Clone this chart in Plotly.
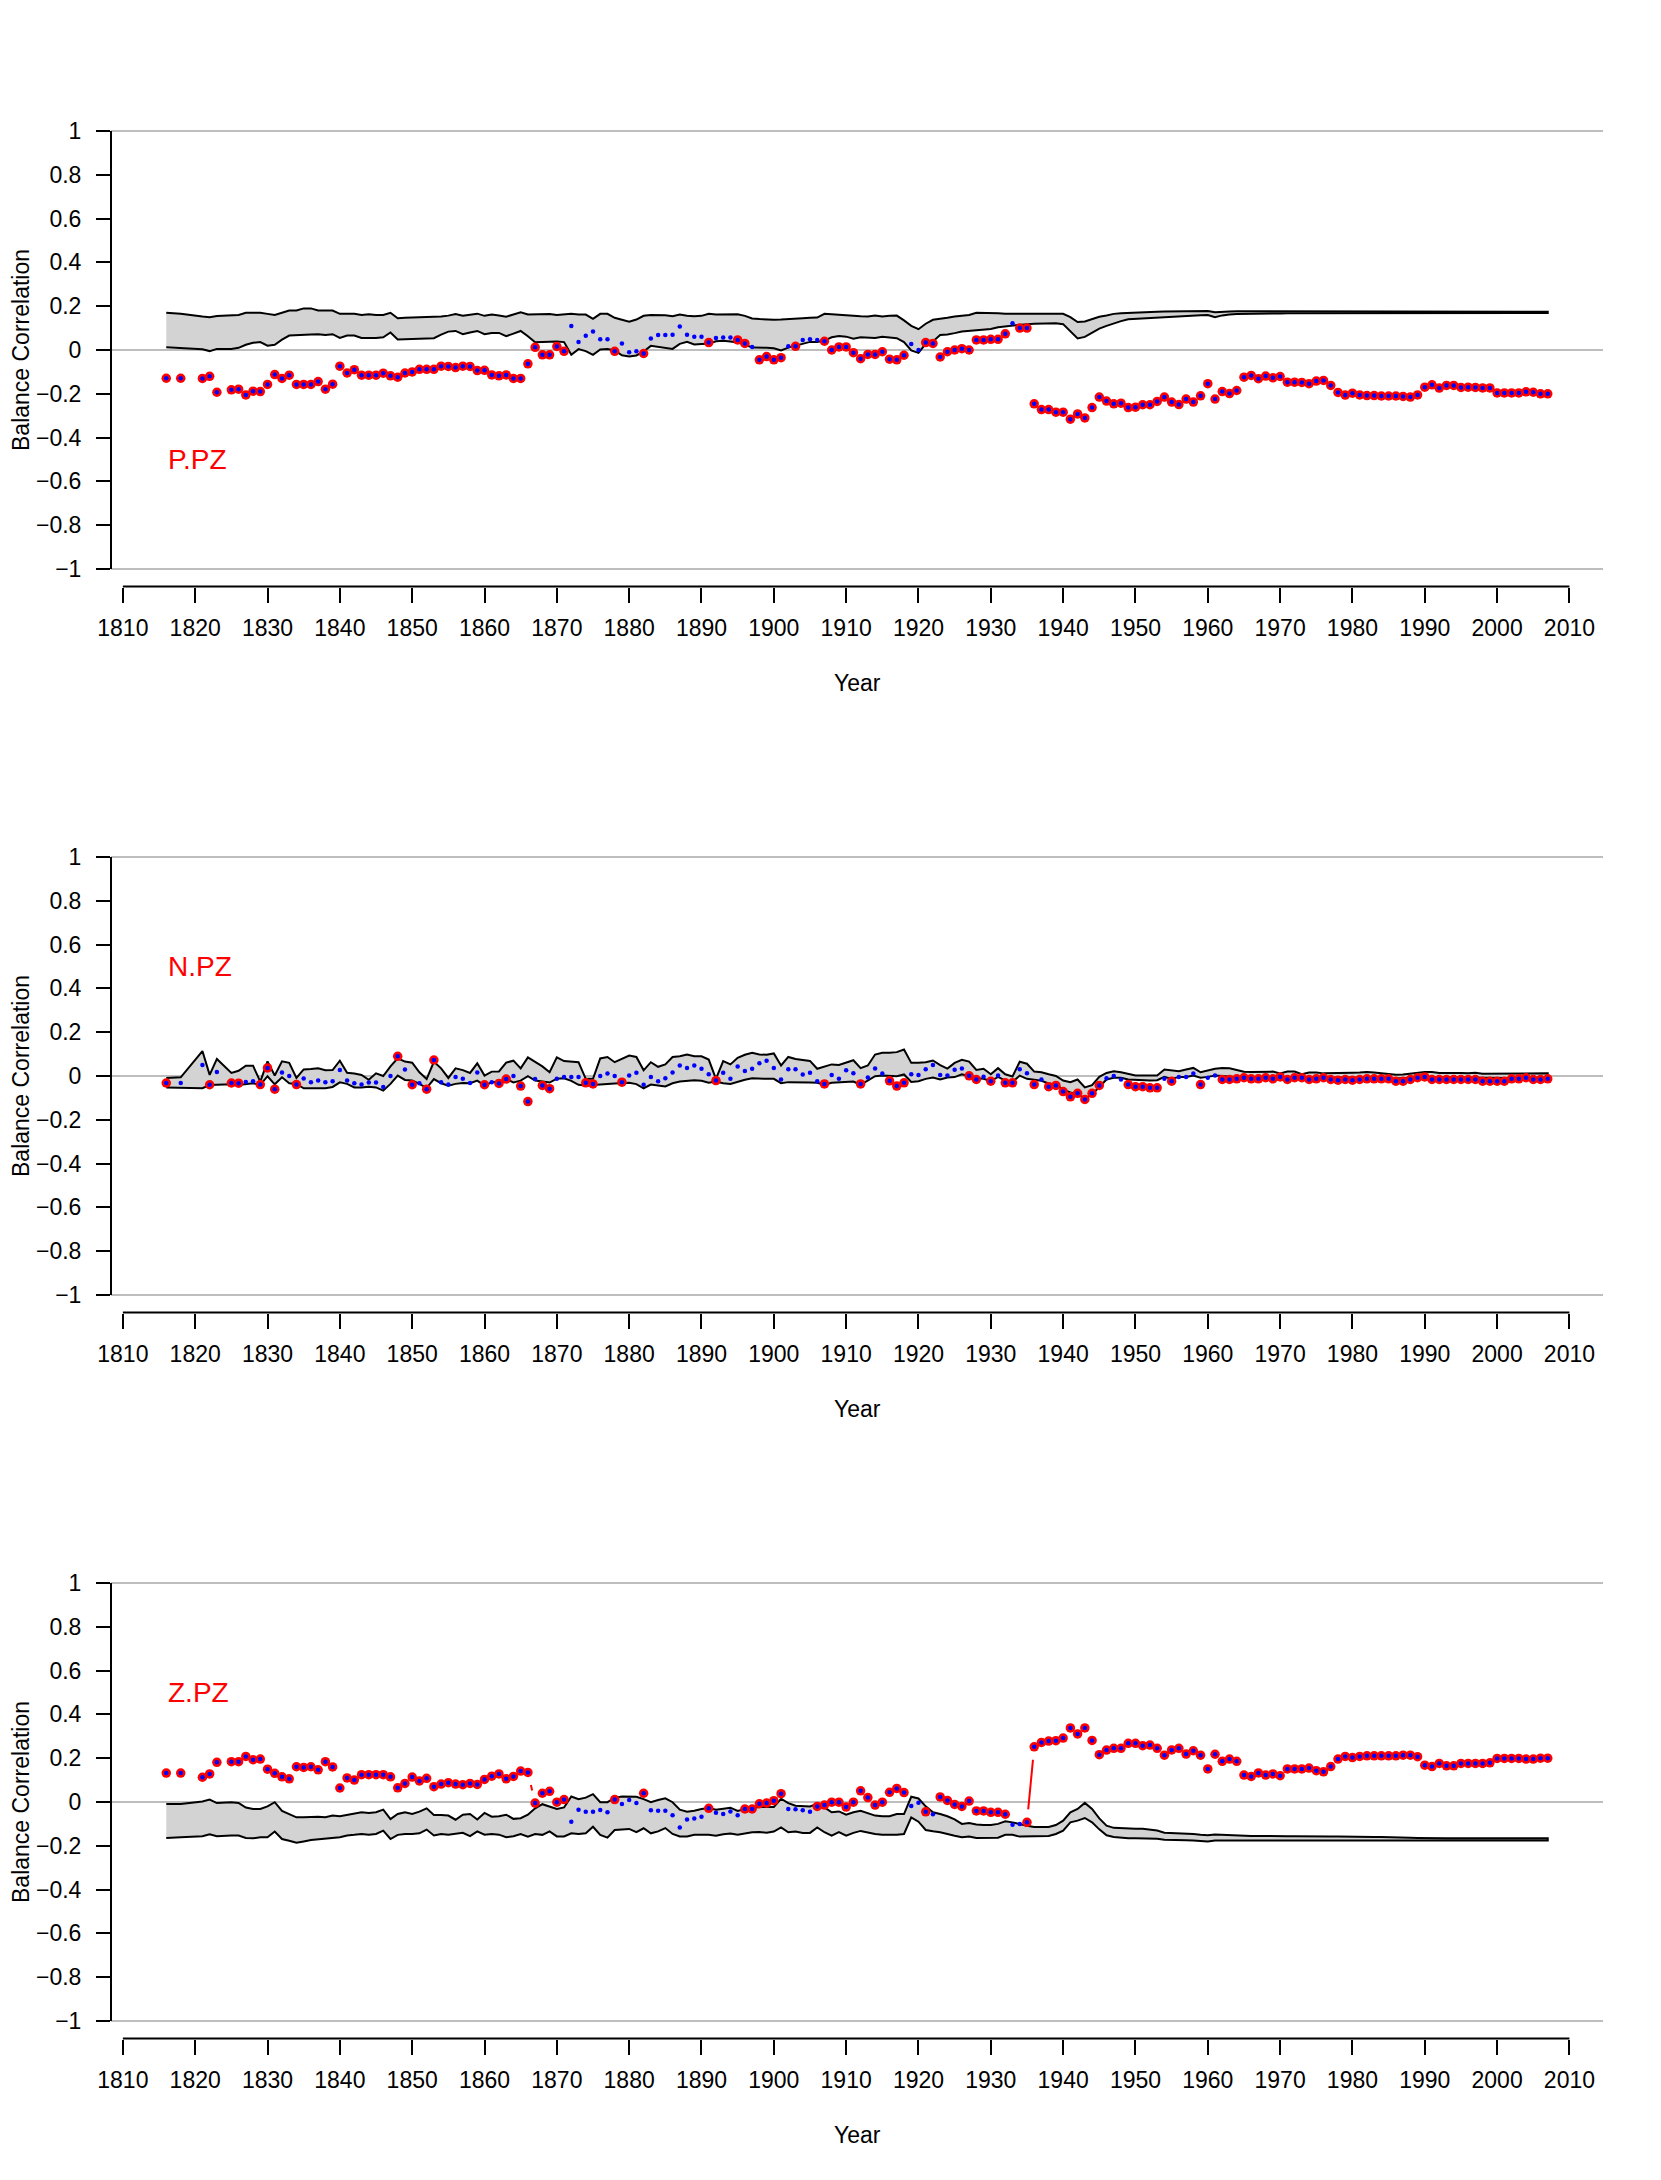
import plotly.graph_objects as go

# ===== DATA =====
years = [1816, 1818, 1821, 1822, 1823] + list(range(1825, 2008))

# P.PZ panel
p_upper = [
    0.17, 0.165, 0.153, 0.15, 0.155,
    0.16, 0.16, 0.17, 0.17, 0.17,
    0.165, 0.16, 0.17, 0.18, 0.18, 0.19, 0.19, 0.18, 0.18, 0.18,
    0.165, 0.165, 0.165, 0.16, 0.163, 0.16, 0.16, 0.17, 0.145, 0.147,
    0.148, 0.148, 0.15, 0.15, 0.153, 0.157, 0.164, 0.157, 0.162, 0.166,
    0.156, 0.162, 0.158, 0.152, 0.162, 0.172, 0.162, 0.163, 0.166, 0.164,
    0.16, 0.162, 0.165, 0.162, 0.162, 0.142, 0.165, 0.165, 0.147, 0.138,
    0.129, 0.139, 0.156, 0.16, 0.16, 0.159, 0.154, 0.162, 0.156, 0.154,
    0.156, 0.165, 0.162, 0.163, 0.163, 0.163, 0.156, 0.144, 0.141, 0.139,
    0.138, 0.139, 0.142, 0.144, 0.145, 0.147, 0.148, 0.165, 0.162, 0.162,
    0.159, 0.156, 0.154, 0.153, 0.157, 0.153, 0.156, 0.157, 0.135, 0.11,
    0.095, 0.12, 0.138, 0.141, 0.147, 0.153, 0.156, 0.16, 0.17, 0.17,
    0.168, 0.168, 0.166, 0.166, 0.165, 0.164, 0.165, 0.165, 0.165, 0.165,
    0.165, 0.15, 0.128, 0.13, 0.142, 0.152, 0.158, 0.165, 0.168, 0.17,
    0.172, 0.173, 0.174, 0.175, 0.176, 0.176, 0.177, 0.177, 0.176, 0.177,
    0.178, 0.172, 0.175, 0.176, 0.177, 0.177, 0.178, 0.177, 0.177, 0.178,
    0.177, 0.178, 0.178, 0.177, 0.177, 0.178, 0.178, 0.177, 0.177, 0.178,
    0.178, 0.177, 0.177, 0.177, 0.178, 0.178, 0.177, 0.177, 0.177, 0.178,
    0.178, 0.178, 0.177, 0.177, 0.177, 0.177, 0.176, 0.176, 0.177, 0.177,
    0.176, 0.176, 0.176, 0.176, 0.176, 0.175, 0.175, 0.175,
]
p_lower = [
    0.013, 0.01, 0.003, -0.005, 0.005,
    0.005, 0.01, 0.024, 0.033, 0.036,
    0.02, 0.024, 0.047, 0.066, 0.07, 0.07, 0.071, 0.072, 0.068, 0.072,
    0.055, 0.066, 0.066, 0.055, 0.055, 0.055, 0.058, 0.08, 0.048, 0.048,
    0.05, 0.052, 0.053, 0.054, 0.07, 0.084, 0.087, 0.072, 0.08, 0.087,
    0.072, 0.078, 0.078, 0.063, 0.075, 0.087, 0.063, 0.035, 0.036, 0.037,
    0.039, 0.036, -0.022, 0.004, -0.005, -0.022, 0.002, 0.005, -0.002, -0.024,
    -0.03, -0.025, -0.007, 0.019, 0.014, 0.01, 0.005, 0.028, 0.037, 0.025,
    0.027, 0.028, 0.04, 0.042, 0.039, 0.034, 0.025, 0.011, 0.01, 0.01,
    0.008, -0.002, 0.011, 0.019, 0.028, 0.037, 0.037, 0.043, 0.058, 0.064,
    0.061, 0.051, 0.058, 0.058, 0.055, 0.06, 0.058, 0.054, 0.036, -0.002,
    -0.013, 0.028, 0.039, 0.069, 0.071, 0.077, 0.084, 0.089, 0.093, 0.093,
    0.096, 0.104, 0.109, 0.112, 0.115, 0.118, 0.12, 0.121, 0.122, 0.122,
    0.118, 0.085, 0.053, 0.06, 0.078, 0.098, 0.11, 0.122, 0.132, 0.14,
    0.143, 0.145, 0.147, 0.148, 0.15, 0.152, 0.154, 0.156, 0.157, 0.159,
    0.16, 0.15, 0.158, 0.162, 0.164, 0.165, 0.166, 0.166, 0.167, 0.167,
    0.167, 0.168, 0.168, 0.168, 0.168, 0.169, 0.169, 0.169, 0.169, 0.17,
    0.17, 0.17, 0.17, 0.17, 0.171, 0.171, 0.171, 0.17, 0.17, 0.171,
    0.171, 0.171, 0.171, 0.171, 0.171, 0.171, 0.17, 0.17, 0.17, 0.17,
    0.17, 0.17, 0.17, 0.17, 0.17, 0.17, 0.169, 0.169,
]
p_value = [
    -0.129, -0.129, -0.13, -0.12, -0.193,
    -0.182, -0.179, -0.205, -0.188, -0.19,
    -0.157, -0.112, -0.13, -0.115, -0.157, -0.157, -0.157, -0.144, -0.179, -0.156,
    -0.074, -0.105, -0.09, -0.115, -0.115, -0.115, -0.106, -0.118, -0.124, -0.105,
    -0.1, -0.088, -0.088, -0.088, -0.074, -0.075, -0.08, -0.074, -0.075, -0.094,
    -0.093, -0.114, -0.118, -0.114, -0.13, -0.13, -0.063, 0.012, -0.022, -0.022,
    0.016, -0.006, 0.11, 0.036, 0.065, 0.084, 0.049, 0.049, -0.006, 0.03,
    -0.01, -0.006, -0.016, 0.052, 0.068, 0.068, 0.07, 0.107, 0.07, 0.061,
    0.061, 0.034, 0.055, 0.057, 0.057, 0.046, 0.03, 0.014, -0.045, -0.03,
    -0.045, -0.035, 0.017, 0.017, 0.046, 0.049, 0.046, 0.04, 0.0, 0.014,
    0.014, -0.012, -0.04, -0.02, -0.02, -0.008, -0.042, -0.045, -0.024, 0.027,
    0.0, 0.034, 0.03, -0.032, -0.008, 0.0, 0.006, 0.0, 0.046, 0.046,
    0.049, 0.049, 0.074, 0.122, 0.1, 0.1, -0.246, -0.272, -0.272, -0.284,
    -0.284, -0.316, -0.292, -0.31, -0.263, -0.215, -0.233, -0.246, -0.243, -0.263,
    -0.261, -0.25, -0.25, -0.235, -0.215, -0.238, -0.249, -0.224, -0.238, -0.209,
    -0.154, -0.224, -0.19, -0.199, -0.185, -0.124, -0.116, -0.131, -0.119, -0.127,
    -0.121, -0.147, -0.147, -0.148, -0.154, -0.142, -0.139, -0.162, -0.194, -0.206,
    -0.197, -0.205, -0.208, -0.208, -0.21, -0.21, -0.21, -0.212, -0.215, -0.205,
    -0.17, -0.159, -0.174, -0.162, -0.162, -0.171, -0.17, -0.171, -0.173, -0.173,
    -0.196, -0.196, -0.196, -0.196, -0.191, -0.193, -0.2, -0.2,
]
p_plain_years = [1872, 1873, 1874, 1875, 1876, 1877, 1879, 1880, 1881,
                 1883, 1884, 1885, 1886, 1887, 1888, 1889, 1890,
                 1892, 1893, 1894, 1897, 1902, 1904, 1905, 1906,
                 1919, 1920, 1933]

# N.PZ panel
n_upper = [
    -0.009, -0.006, 0.114, 0.005, 0.078,
    0.014, 0.024, 0.047, 0.047, -0.026,
    0.067, 0.002, 0.067, 0.06, -0.009, 0.03, 0.032, 0.035, 0.026, 0.027,
    0.07, 0.015, 0.011, 0.005, -0.017, 0.012, 0.0, 0.044, 0.081, 0.066,
    0.061, 0.017, -0.014, 0.065, 0.035, -0.009, 0.035, 0.027, 0.014, 0.058,
    0.002, 0.02, 0.021, 0.061, 0.07, 0.035, 0.085, 0.064, 0.044, 0.017,
    0.085, 0.068, 0.065, 0.063, -0.013, -0.013, 0.08, 0.087, 0.063, 0.078,
    0.093, 0.087, 0.026, 0.063, 0.042, 0.053, 0.087, 0.09, 0.098, 0.09,
    0.09, 0.075, -0.013, 0.068, 0.053, 0.083, 0.097, 0.106, 0.098, 0.097,
    0.103, 0.048, 0.087, 0.078, 0.072, 0.069, 0.033, 0.042, 0.053, 0.05,
    0.06, 0.072, 0.036, 0.048, 0.098, 0.106, 0.106, 0.109, 0.121, 0.06,
    0.06, 0.063, 0.071, 0.05, 0.034, 0.06, 0.074, 0.066, 0.028, 0.033,
    0.008, 0.036, 0.008, -0.002, 0.065, 0.056, 0.02, 0.017, 0.008, 0.0,
    -0.021, -0.028, -0.016, -0.052, -0.042, -0.004, 0.014, 0.022, 0.017, 0.011,
    0.002, 0.002, 0.003, 0.002, 0.03, 0.026, 0.022, 0.03, 0.037, 0.017,
    0.026, 0.033, 0.037, 0.035, 0.027, 0.019, 0.018, 0.018, 0.019, 0.02,
    0.012, 0.02, 0.02, 0.008, 0.016, 0.016, 0.012, 0.012, 0.013, 0.014,
    0.015, 0.016, 0.018, 0.016, 0.013, 0.01, 0.006, 0.007, 0.01, 0.016,
    0.018, 0.018, 0.014, 0.014, 0.015, 0.014, 0.012, 0.015, 0.01, 0.01,
    0.01, 0.011, 0.012, 0.012, 0.012, 0.012, 0.013, 0.012,
]
n_lower = [
    -0.053, -0.053, -0.056, -0.041, -0.041,
    -0.038, -0.041, -0.036, -0.033, -0.041,
    -0.001, -0.038, -0.006, -0.033, -0.036, -0.056, -0.059, -0.056, -0.056, -0.05,
    -0.029, -0.036, -0.052, -0.053, -0.049, -0.052, -0.067, -0.036, 0.002, -0.018,
    -0.021, -0.036, -0.055, -0.014, -0.033, -0.044, -0.036, -0.032, -0.033, -0.021,
    -0.044, -0.029, -0.026, -0.014, -0.029, -0.021, -0.001, -0.021, -0.026, -0.03,
    -0.012, -0.01, -0.022, -0.04, -0.043, -0.039, -0.039, -0.036, -0.034, -0.031,
    -0.031, -0.037, -0.056, -0.039, -0.043, -0.048, -0.033, -0.025, -0.022, -0.019,
    -0.022, -0.031, -0.025, -0.033, -0.036, -0.025, -0.017, -0.01, -0.013, -0.013,
    -0.013, -0.033, -0.028, -0.028, -0.03, -0.03, -0.031, -0.04, -0.031, -0.028,
    -0.028, -0.025, -0.04, -0.019, -0.001, 0.002, 0.002, -0.001, 0.007, -0.027,
    -0.024, -0.013, -0.007, -0.016, -0.007, -0.005, 0.008, 0.0, -0.01, -0.013,
    -0.024, -0.004, -0.021, -0.027, 0.002, -0.013, -0.016, -0.022, -0.034, -0.039,
    -0.062, -0.075, -0.083, -0.104, -0.084, -0.051, -0.016, -0.008, -0.008, -0.016,
    -0.019, -0.019, -0.02, -0.019, -0.004, -0.013, -0.004, -0.004, 0.002, -0.008,
    -0.004, 0.002, -0.001, -0.002, -0.004, -0.005, -0.005, -0.004, -0.005, -0.004,
    -0.006, -0.004, -0.005, -0.008, -0.006, -0.005, -0.006, -0.007, -0.008, -0.008,
    -0.007, -0.006, -0.005, -0.006, -0.008, -0.01, -0.011, -0.01, -0.008, -0.004,
    -0.003, -0.004, -0.006, -0.006, -0.006, -0.007, -0.008, -0.007, -0.009, -0.01,
    -0.01, -0.009, -0.009, -0.008, -0.008, -0.008, -0.008, -0.009,
]
n_value = [
    -0.032, -0.032, 0.05, -0.04, 0.018,
    -0.032, -0.033, -0.027, -0.024, -0.039,
    0.037, -0.06, 0.016, 0.0, -0.039, -0.011, -0.028, -0.021, -0.028, -0.024,
    0.027, -0.021, -0.033, -0.039, -0.03, -0.03, -0.05, 0.0, 0.09, 0.03,
    -0.04, -0.033, -0.06, 0.073, -0.028, -0.039, -0.004, -0.013, -0.032, 0.016,
    -0.04, -0.028, -0.034, -0.014, 0.0, -0.046, -0.117, -0.014, -0.043, -0.058,
    -0.013, -0.004, -0.004, -0.004, -0.031, -0.036, 0.0, 0.011, 0.0, -0.028,
    0.002, 0.015, -0.04, -0.004, -0.024, -0.01, 0.016, 0.048, 0.037, 0.048,
    0.033, 0.008, -0.021, 0.015, -0.013, 0.043, 0.023, 0.033, 0.058, 0.07,
    0.037, -0.016, 0.031, 0.031, 0.007, 0.015, -0.024, -0.036, 0.005, -0.012,
    0.026, 0.013, -0.036, -0.007, 0.034, 0.011, -0.022, -0.046, -0.031, 0.008,
    0.005, 0.031, 0.05, 0.005, 0.002, 0.028, 0.034, 0.001, -0.016, -0.003,
    -0.024, 0.002, -0.031, -0.031, 0.031, 0.013, -0.039, -0.016, -0.049, -0.043,
    -0.071, -0.095, -0.079, -0.107, -0.079, -0.043, -0.01, 0.0, -0.016, -0.039,
    -0.049, -0.049, -0.054, -0.054, -0.013, -0.024, -0.004, -0.004, 0.011, -0.039,
    -0.008, 0.002, -0.016, -0.016, -0.013, -0.008, -0.013, -0.013, -0.008, -0.013,
    -0.004, -0.016, -0.008, -0.008, -0.016, -0.013, -0.008, -0.016, -0.019, -0.016,
    -0.019, -0.016, -0.013, -0.013, -0.013, -0.013, -0.024, -0.024, -0.016, -0.008,
    -0.004, -0.016, -0.016, -0.016, -0.016, -0.016, -0.016, -0.016, -0.024, -0.024,
    -0.024, -0.024, -0.013, -0.013, -0.008, -0.016, -0.016, -0.013,
]
n_marked_years = [1816, 1822, 1825, 1826, 1829, 1830, 1831, 1834, 1848, 1850,
                  1852, 1853, 1860, 1862, 1863, 1865, 1866, 1868, 1869, 1874,
                  1875, 1879, 1892, 1907, 1912, 1916, 1917, 1918, 1927, 1928,
                  1930, 1932, 1933, 1936, 1938, 1939, 1940, 1941, 1942, 1943,
                  1944, 1945, 1949, 1950, 1951, 1952, 1953, 1955, 1959] + list(range(1962, 2008))

# Z.PZ panel
z_upper = [
    -0.009, -0.009, 0.002, 0.011, -0.005,
    -0.001, -0.004, -0.025, -0.032, -0.032,
    -0.02, -0.001, -0.041, -0.055, -0.07, -0.07, -0.067, -0.067, -0.07, -0.062,
    -0.065, -0.058, -0.053, -0.047, -0.05, -0.047, -0.035, -0.078, -0.055, -0.047,
    -0.055, -0.044, -0.029, -0.059, -0.059, -0.062, -0.081, -0.058, -0.055, -0.08,
    -0.05, -0.067, -0.065, -0.058, -0.077, -0.074, -0.058, -0.029, -0.01, -0.02,
    -0.032, -0.025, 0.025, 0.013, 0.02, 0.036, -0.001, -0.001, 0.019, 0.025,
    0.024, 0.024, 0.013, -0.001, 0.009, 0.017, -0.001, -0.035, -0.044, -0.04,
    -0.032, -0.027, -0.035, -0.032, -0.026, -0.041, -0.032, -0.027, -0.023, -0.023,
    -0.023, 0.015, -0.005, -0.017, -0.02, -0.02, -0.008, -0.025, -0.047, -0.043,
    -0.058, -0.047, -0.04, -0.052, -0.062, -0.065, -0.065, -0.055, -0.055, 0.024,
    0.016, -0.02, -0.047, -0.055, -0.065, -0.079, -0.1, -0.096, -0.103, -0.105,
    -0.105, -0.1, -0.088, -0.093, -0.102, -0.108, -0.114, -0.114, -0.114, -0.105,
    -0.085, -0.047, -0.032, -0.004, -0.032, -0.075, -0.108, -0.118, -0.12, -0.123,
    -0.122, -0.122, -0.125, -0.13, -0.14, -0.141, -0.142, -0.144, -0.146, -0.15,
    -0.152, -0.148, -0.15, -0.152, -0.153, -0.154, -0.155, -0.155, -0.156, -0.156,
    -0.156, -0.156, -0.156, -0.157, -0.157, -0.157, -0.158, -0.158, -0.158, -0.159,
    -0.159, -0.159, -0.16, -0.16, -0.16, -0.16, -0.161, -0.162, -0.163, -0.164,
    -0.165, -0.166, -0.166, -0.166, -0.165, -0.165, -0.165, -0.165, -0.164, -0.164,
    -0.164, -0.164, -0.164, -0.165, -0.165, -0.165, -0.165, -0.165,
]
z_lower = [
    -0.164, -0.161, -0.156, -0.147, -0.156,
    -0.153, -0.153, -0.164, -0.166, -0.161,
    -0.161, -0.135, -0.169, -0.177, -0.186, -0.18, -0.174, -0.169, -0.169, -0.164,
    -0.161, -0.153, -0.15, -0.146, -0.15, -0.146, -0.131, -0.169, -0.15, -0.146,
    -0.146, -0.143, -0.126, -0.153, -0.146, -0.149, -0.146, -0.141, -0.156, -0.134,
    -0.149, -0.146, -0.149, -0.161, -0.156, -0.146, -0.158, -0.146, -0.15, -0.134,
    -0.157, -0.157, -0.143, -0.146, -0.143, -0.113, -0.15, -0.163, -0.128, -0.126,
    -0.123, -0.138, -0.12, -0.143, -0.134, -0.119, -0.146, -0.157, -0.157, -0.15,
    -0.15, -0.15, -0.154, -0.147, -0.144, -0.15, -0.144, -0.138, -0.137, -0.14,
    -0.135, -0.116, -0.138, -0.135, -0.141, -0.141, -0.116, -0.138, -0.154, -0.138,
    -0.154, -0.141, -0.132, -0.138, -0.146, -0.15, -0.15, -0.15, -0.146, -0.07,
    -0.09, -0.128, -0.134, -0.138, -0.146, -0.154, -0.161, -0.158, -0.164, -0.166,
    -0.164, -0.163, -0.15, -0.15, -0.158, -0.16, -0.157, -0.156, -0.155, -0.146,
    -0.131, -0.093, -0.085, -0.073, -0.093, -0.125, -0.152, -0.16, -0.163, -0.166,
    -0.165, -0.165, -0.166, -0.168, -0.172, -0.174, -0.174, -0.175, -0.176, -0.177,
    -0.18, -0.176, -0.176, -0.176, -0.177, -0.177, -0.176, -0.176, -0.176, -0.176,
    -0.176, -0.176, -0.176, -0.176, -0.175, -0.175, -0.175, -0.175, -0.175, -0.175,
    -0.175, -0.175, -0.175, -0.175, -0.175, -0.176, -0.176, -0.177, -0.177, -0.178,
    -0.178, -0.178, -0.177, -0.177, -0.176, -0.176, -0.176, -0.176, -0.176, -0.176,
    -0.175, -0.175, -0.175, -0.175, -0.176, -0.176, -0.176, -0.176,
]
z_value = [
    0.132, 0.132, 0.113, 0.128, 0.181,
    0.184, 0.184, 0.208, 0.193, 0.196,
    0.15, 0.131, 0.115, 0.106, 0.161, 0.158, 0.161, 0.147, 0.184, 0.16,
    0.064, 0.11, 0.1, 0.125, 0.125, 0.125, 0.125, 0.115, 0.065, 0.085,
    0.114, 0.096, 0.108, 0.07, 0.082, 0.088, 0.082, 0.079, 0.085, 0.08,
    0.103, 0.118, 0.128, 0.106, 0.117, 0.141, 0.135, -0.005, 0.04, 0.049,
    -0.001, 0.011, -0.09, -0.035, -0.044, -0.044, -0.036, -0.047, 0.011, -0.009,
    0.009, -0.005, 0.04, -0.038, -0.04, -0.04, -0.06, -0.116, -0.08, -0.075,
    -0.067, -0.029, -0.049, -0.055, -0.043, -0.061, -0.032, -0.032, -0.008, -0.005,
    0.006, 0.038, -0.032, -0.033, -0.038, -0.045, -0.02, -0.014, -0.001, -0.001,
    -0.023, -0.001, 0.051, 0.02, -0.014, -0.001, 0.044, 0.062, 0.043, -0.018,
    -0.003, -0.045, -0.056, 0.023, 0.007, -0.011, -0.02, 0.004, -0.041, -0.041,
    -0.047, -0.047, -0.056, -0.104, -0.101, -0.093, 0.252, 0.272, 0.278, 0.28,
    0.292, 0.338, 0.311, 0.338, 0.281, 0.216, 0.237, 0.245, 0.245, 0.268,
    0.268, 0.257, 0.26, 0.245, 0.214, 0.238, 0.245, 0.219, 0.234, 0.214,
    0.151, 0.218, 0.186, 0.196, 0.186, 0.123, 0.117, 0.133, 0.123, 0.128,
    0.12, 0.151, 0.151, 0.151, 0.155, 0.143, 0.138, 0.162, 0.196, 0.208,
    0.203, 0.208, 0.211, 0.211, 0.211, 0.211, 0.211, 0.214, 0.214, 0.207,
    0.168, 0.162, 0.176, 0.165, 0.165, 0.176, 0.176, 0.176, 0.176, 0.179,
    0.199, 0.199, 0.199, 0.199, 0.196, 0.196, 0.2, 0.2,
]
z_plain_years = [1872, 1873, 1874, 1875, 1876, 1877, 1879, 1880, 1881,
                 1883, 1884, 1885, 1886, 1887, 1888, 1889, 1890,
                 1892, 1893, 1894, 1895, 1902, 1903, 1904, 1905,
                 1919, 1920, 1922, 1933, 1934]
z_joined = [(1866, 1867), (1935, 1936)]

panel_names = ["P.PZ", "N.PZ", "Z.PZ"]
label_y = [-0.5, 0.5, 0.5]

y_ticks = [-1, -0.8, -0.6, -0.4, -0.2, 0, 0.2, 0.4, 0.6, 0.8, 1]
x_ticks = list(range(1810, 2011, 10))

# ===== LAYOUT CONSTANTS =====
# page body has an 8px margin, so the figure is drawn 8px in and positions shifted
OFF = 8
W, H = 1661 - 2 * OFF, 2180 - 2 * OFF
PLOT_L, PLOT_R = 111 - OFF, 1603 - OFF
PANEL_TOP = [113.5 - OFF, 839.5 - OFF, 1565.5 - OFF]
PANEL_H = 473
X_RANGE = [1808.36, 2014.64]
Y_RANGE = [-1.08, 1.08]
FONT = "Liberation Sans, Arial, Helvetica, sans-serif"
GAP_PX = 13  # gap left around points on joined segments (R type="b")
YTITLE_X = 13  # centre of the rotated y title, in figure pixels

px_per_year = (PLOT_R - PLOT_L) / (X_RANGE[1] - X_RANGE[0])
px_per_unit = PANEL_H / (Y_RANGE[1] - Y_RANGE[0])

marked = [
    [y for y in years if y not in p_plain_years],
    n_marked_years,
    [y for y in years if y not in z_plain_years],
]
uppers = [p_upper, n_upper, z_upper]
lowers = [p_lower, n_lower, z_lower]
values = [p_value, n_value, z_value]

for arr in uppers + lowers + values:
    assert len(arr) == len(years)

fig = go.Figure()
shapes = []
annotations = []

for k in range(3):
    xa = "x" if k == 0 else f"x{k + 1}"
    ya = "y" if k == 0 else f"y{k + 1}"
    val = dict(zip(years, values[k]))

    # envelope polygon
    fig.add_trace(go.Scatter(
        x=years + years[::-1],
        y=uppers[k] + lowers[k][::-1],
        fill="toself", fillcolor="#d3d3d3",
        line=dict(color="black", width=2),
        mode="lines", xaxis=xa, yaxis=ya, showlegend=False, hoverinfo="skip",
    ))

    # red connectors with gaps around the points (Z panel only)
    if k == 2:
        for a, b in z_joined:
            dx = (b - a) * px_per_year
            dy = (val[b] - val[a]) * px_per_unit
            length = (dx * dx + dy * dy) ** 0.5
            f = GAP_PX / length
            fig.add_trace(go.Scatter(
                x=[a + f * (b - a), b - f * (b - a)],
                y=[val[a] + f * (val[b] - val[a]), val[b] - f * (val[b] - val[a])],
                mode="lines", line=dict(color="red", width=2),
                xaxis=xa, yaxis=ya, showlegend=False, hoverinfo="skip",
            ))

    # significant years: red circles
    fig.add_trace(go.Scatter(
        x=marked[k], y=[val[y] for y in marked[k]], mode="markers",
        marker=dict(color="red", size=9.5, line=dict(width=0)),
        xaxis=xa, yaxis=ya, showlegend=False,
    ))

    # all years: small blue dots
    fig.add_trace(go.Scatter(
        x=years, y=values[k], mode="markers",
        marker=dict(color="blue", size=4.5, line=dict(width=0)),
        xaxis=xa, yaxis=ya, showlegend=False,
    ))

    top = PANEL_TOP[k]
    dom_y = [1 - (top + PANEL_H) / H, 1 - top / H]
    fig.update_layout(**{
        ("xaxis" if k == 0 else f"xaxis{k + 1}"): dict(
            domain=[PLOT_L / W, PLOT_R / W], range=X_RANGE, anchor=ya,
            tickvals=x_ticks, ticktext=[str(t) for t in x_ticks],
            ticks="outside", ticklen=15, tickwidth=2, tickcolor="black",
            ticklabelstandoff=6, automargin=False,
            showline=False, showgrid=False, zeroline=False,
            tickfont=dict(family=FONT, size=23, color="black"),
        ),
        ("yaxis" if k == 0 else f"yaxis{k + 1}"): dict(
            domain=dom_y, range=Y_RANGE, anchor=xa,
            tickvals=y_ticks,
            ticktext=[("\u2212" + f"{abs(t):g}") if t < 0 else f"{t:g}" for t in y_ticks],
            ticks="outside", ticklen=14, tickwidth=2, tickcolor="black",
            ticklabelstandoff=10, automargin=False,
            showline=False, showgrid=False, zeroline=False,
            tickfont=dict(family=FONT, size=23, color="black"),
        ),
    })

    # horizontal reference lines at -1, 0, 1
    for h in [-1, 0, 1]:
        shapes.append(dict(type="line", xref=f"{xa} domain", yref=ya,
                           x0=0, x1=1, y0=h, y1=h, layer="below",
                           line=dict(color="#bebebe", width=2)))
    # axis lines (R style: from first to last tick)
    shapes.append(dict(type="line", xref=xa, yref=f"{ya} domain",
                       x0=x_ticks[0], x1=x_ticks[-1], y0=0, y1=0,
                       line=dict(color="black", width=2)))
    shapes.append(dict(type="line", xref=f"{xa} domain", yref=ya,
                       x0=0, x1=0, y0=-1, y1=1,
                       line=dict(color="black", width=2)))

    # panel label
    annotations.append(dict(x=years[0], y=label_y[k], xref=xa, yref=ya,
                            text=panel_names[k], showarrow=False,
                            xanchor="left", yanchor="middle",
                            font=dict(family=FONT, size=28, color="red")))
    # axis titles
    zero_px = top + PANEL_H / 2
    annotations.append(dict(x=YTITLE_X / W, y=1 - zero_px / H,
                            xref="paper", yref="paper",
                            text="Balance Correlation", textangle=-90, showarrow=False,
                            xanchor="center", yanchor="middle",
                            font=dict(family=FONT, size=23, color="black")))
    annotations.append(dict(x=(PLOT_L + PLOT_R) / 2 / W, y=1 - (top + 569.5) / H,
                            xref="paper", yref="paper", text="Year", showarrow=False,
                            xanchor="center", yanchor="middle",
                            font=dict(family=FONT, size=23, color="black")))

fig.update_layout(
    width=W, height=H,
    margin=dict(l=0, r=0, t=0, b=0),
    paper_bgcolor="white", plot_bgcolor="white",
    shapes=shapes, annotations=annotations,
    showlegend=False,
)

fig.write_html("out.html")
